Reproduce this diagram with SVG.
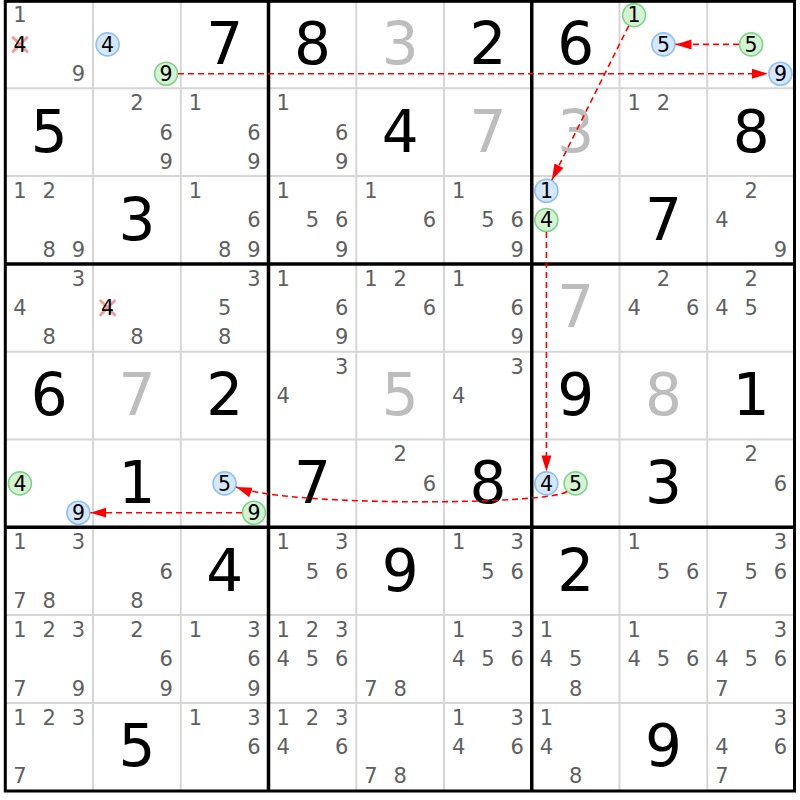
<svg xmlns="http://www.w3.org/2000/svg" width="800" height="800" viewBox="0 0 800 800">
<style>
.thin{stroke:#d6d6d6;stroke-width:2}
.thick{stroke:#000;stroke-width:3.5}
text{font-family:"DejaVu Sans","Liberation Sans",sans-serif;text-anchor:middle}
.c{font-size:21px;fill:#606060}
.h{font-size:20.5px;fill:#000}
.g{font-size:58px;fill:#000}
.u{font-size:58px;fill:#bdbdbd}
.hb{fill:#d4e7fd;stroke:#8dbff3;stroke-width:1.6}
.hg{fill:#d3f3d3;stroke:#7fd38a;stroke-width:1.6}
.x{stroke:#f49c9c;stroke-width:3;stroke-linecap:round}
.link{fill:none;stroke:#f00;stroke-width:1.6;stroke-dasharray:6,4}
</style>
<defs>
<marker id="ah" markerUnits="userSpaceOnUse" markerWidth="17" markerHeight="12" refX="16" refY="5" orient="auto" viewBox="0 0 17 10">
<path d="M0,0 L16,5 L0,10 z" fill="#f00"/>
</marker>
</defs>
<rect x="0" y="0" width="800" height="800" fill="#fff"/>
<g id="grid-thin">
<line class="thin" x1="93" y1="1" x2="93" y2="791"/>
<line class="thin" x1="180.75" y1="1" x2="180.75" y2="791"/>
<line class="thin" x1="356.25" y1="1" x2="356.25" y2="791"/>
<line class="thin" x1="444" y1="1" x2="444" y2="791"/>
<line class="thin" x1="619.5" y1="1" x2="619.5" y2="791"/>
<line class="thin" x1="707.25" y1="1" x2="707.25" y2="791"/>
<line class="thin" x1="5" y1="88.3" x2="795" y2="88.3"/>
<line class="thin" x1="5" y1="176.1" x2="795" y2="176.1"/>
<line class="thin" x1="5" y1="351.7" x2="795" y2="351.7"/>
<line class="thin" x1="5" y1="439.5" x2="795" y2="439.5"/>
<line class="thin" x1="5" y1="615.1" x2="795" y2="615.1"/>
<line class="thin" x1="5" y1="702.9" x2="795" y2="702.9"/>
</g>
<g id="r0c0"><text class="c" x="19.9" y="22.4">1</text><line class="x" x1="13" y1="37.5" x2="27" y2="51.5"/><line class="x" x1="27" y1="37.5" x2="13" y2="51.5"/><text class="h" x="19.9" y="51.7">4</text><text class="c" x="78.4" y="81">9</text></g>
<g id="r0c1"><circle class="hb" cx="107.6" cy="44.4" r="11.5"/><text class="h" x="107.6" y="51.7">4</text><circle class="hg" cx="166.1" cy="73.7" r="11.5"/><text class="h" x="166.1" y="81">9</text></g>
<g id="r0c2"><text class="g" x="224.6" y="64">7</text></g>
<g id="r0c3"><text class="g" x="312.4" y="64">8</text></g>
<g id="r0c4"><text class="u" x="400.1" y="64">3</text></g>
<g id="r0c5"><text class="g" x="487.9" y="64">2</text></g>
<g id="r0c6"><text class="g" x="575.6" y="64">6</text></g>
<g id="r0c7"><circle class="hg" cx="634.1" cy="15.1" r="11.5"/><text class="h" x="634.1" y="22.4">1</text><circle class="hb" cx="663.4" cy="44.4" r="11.5"/><text class="h" x="663.4" y="51.7">5</text></g>
<g id="r0c8"><circle class="hg" cx="751.1" cy="44.4" r="11.5"/><text class="h" x="751.1" y="51.7">5</text><circle class="hb" cx="780.4" cy="73.7" r="11.5"/><text class="h" x="780.4" y="81">9</text></g>

<g id="r1c0"><text class="g" x="49.1" y="151.8">5</text></g>
<g id="r1c1"><text class="c" x="136.9" y="110.2">2</text><text class="c" x="166.1" y="139.5">6</text><text class="c" x="166.1" y="168.8">9</text></g>
<g id="r1c2"><text class="c" x="195.4" y="110.2">1</text><text class="c" x="253.9" y="139.5">6</text><text class="c" x="253.9" y="168.8">9</text></g>
<g id="r1c3"><text class="c" x="283.1" y="110.2">1</text><text class="c" x="341.6" y="139.5">6</text><text class="c" x="341.6" y="168.8">9</text></g>
<g id="r1c4"><text class="g" x="400.1" y="151.8">4</text></g>
<g id="r1c5"><text class="u" x="487.9" y="151.8">7</text></g>
<g id="r1c6"><text class="u" x="575.6" y="151.8">3</text></g>
<g id="r1c7"><text class="c" x="634.1" y="110.2">1</text><text class="c" x="663.4" y="110.2">2</text></g>
<g id="r1c8"><text class="g" x="751.1" y="151.8">8</text></g>

<g id="r2c0"><text class="c" x="19.9" y="198">1</text><text class="c" x="49.1" y="198">2</text><text class="c" x="49.1" y="256.6">8</text><text class="c" x="78.4" y="256.6">9</text></g>
<g id="r2c1"><text class="g" x="136.9" y="239.6">3</text></g>
<g id="r2c2"><text class="c" x="195.4" y="198">1</text><text class="c" x="253.9" y="227.3">6</text><text class="c" x="224.6" y="256.6">8</text><text class="c" x="253.9" y="256.6">9</text></g>
<g id="r2c3"><text class="c" x="283.1" y="198">1</text><text class="c" x="312.4" y="227.3">5</text><text class="c" x="341.6" y="227.3">6</text><text class="c" x="341.6" y="256.6">9</text></g>
<g id="r2c4"><text class="c" x="370.9" y="198">1</text><text class="c" x="429.4" y="227.3">6</text></g>
<g id="r2c5"><text class="c" x="458.6" y="198">1</text><text class="c" x="487.9" y="227.3">5</text><text class="c" x="517.1" y="227.3">6</text><text class="c" x="517.1" y="256.6">9</text></g>
<g id="r2c6"><circle class="hb" cx="546.4" cy="190.7" r="11.5"/><text class="h" x="546.4" y="198">1</text><circle class="hg" cx="546.4" cy="220" r="11.5"/><text class="h" x="546.4" y="227.3">4</text></g>
<g id="r2c7"><text class="g" x="663.4" y="239.6">7</text></g>
<g id="r2c8"><text class="c" x="751.1" y="198">2</text><text class="c" x="721.9" y="227.3">4</text><text class="c" x="780.4" y="256.6">9</text></g>

<g id="r3c0"><text class="c" x="78.4" y="285.8">3</text><text class="c" x="19.9" y="315.1">4</text><text class="c" x="49.1" y="344.4">8</text></g>
<g id="r3c1"><line class="x" x1="100.6" y1="300.8" x2="114.6" y2="314.8"/><line class="x" x1="114.6" y1="300.8" x2="100.6" y2="314.8"/><text class="h" x="107.6" y="315.1">4</text><text class="c" x="136.9" y="344.4">8</text></g>
<g id="r3c2"><text class="c" x="253.9" y="285.8">3</text><text class="c" x="224.6" y="315.1">5</text><text class="c" x="224.6" y="344.4">8</text></g>
<g id="r3c3"><text class="c" x="283.1" y="285.8">1</text><text class="c" x="341.6" y="315.1">6</text><text class="c" x="341.6" y="344.4">9</text></g>
<g id="r3c4"><text class="c" x="370.9" y="285.8">1</text><text class="c" x="400.1" y="285.8">2</text><text class="c" x="429.4" y="315.1">6</text></g>
<g id="r3c5"><text class="c" x="458.6" y="285.8">1</text><text class="c" x="517.1" y="315.1">6</text><text class="c" x="517.1" y="344.4">9</text></g>
<g id="r3c6"><text class="u" x="575.6" y="327.4">7</text></g>
<g id="r3c7"><text class="c" x="663.4" y="285.8">2</text><text class="c" x="634.1" y="315.1">4</text><text class="c" x="692.6" y="315.1">6</text></g>
<g id="r3c8"><text class="c" x="751.1" y="285.8">2</text><text class="c" x="721.9" y="315.1">4</text><text class="c" x="751.1" y="315.1">5</text></g>

<g id="r4c0"><text class="g" x="49.1" y="415.2">6</text></g>
<g id="r4c1"><text class="u" x="136.9" y="415.2">7</text></g>
<g id="r4c2"><text class="g" x="224.6" y="415.2">2</text></g>
<g id="r4c3"><text class="c" x="341.6" y="373.6">3</text><text class="c" x="283.1" y="402.9">4</text></g>
<g id="r4c4"><text class="u" x="400.1" y="415.2">5</text></g>
<g id="r4c5"><text class="c" x="517.1" y="373.6">3</text><text class="c" x="458.6" y="402.9">4</text></g>
<g id="r4c6"><text class="g" x="575.6" y="415.2">9</text></g>
<g id="r4c7"><text class="u" x="663.4" y="415.2">8</text></g>
<g id="r4c8"><text class="g" x="751.1" y="415.2">1</text></g>

<g id="r5c0"><circle class="hg" cx="19.9" cy="483.4" r="11.5"/><text class="h" x="19.9" y="490.7">4</text><circle class="hb" cx="78.4" cy="512.7" r="11.5"/><text class="h" x="78.4" y="520">9</text></g>
<g id="r5c1"><text class="g" x="136.9" y="503">1</text></g>
<g id="r5c2"><circle class="hb" cx="224.6" cy="483.4" r="11.5"/><text class="h" x="224.6" y="490.7">5</text><circle class="hg" cx="253.9" cy="512.7" r="11.5"/><text class="h" x="253.9" y="520">9</text></g>
<g id="r5c3"><text class="g" x="312.4" y="503">7</text></g>
<g id="r5c4"><text class="c" x="400.1" y="461.4">2</text><text class="c" x="429.4" y="490.7">6</text></g>
<g id="r5c5"><text class="g" x="487.9" y="503">8</text></g>
<g id="r5c6"><circle class="hb" cx="546.4" cy="483.4" r="11.5"/><text class="h" x="546.4" y="490.7">4</text><circle class="hg" cx="575.6" cy="483.4" r="11.5"/><text class="h" x="575.6" y="490.7">5</text></g>
<g id="r5c7"><text class="g" x="663.4" y="503">3</text></g>
<g id="r5c8"><text class="c" x="751.1" y="461.4">2</text><text class="c" x="780.4" y="490.7">6</text></g>

<g id="r6c0"><text class="c" x="19.9" y="549.2">1</text><text class="c" x="78.4" y="549.2">3</text><text class="c" x="19.9" y="607.8">7</text><text class="c" x="49.1" y="607.8">8</text></g>
<g id="r6c1"><text class="c" x="166.1" y="578.5">6</text><text class="c" x="136.9" y="607.8">8</text></g>
<g id="r6c2"><text class="g" x="224.6" y="590.8">4</text></g>
<g id="r6c3"><text class="c" x="283.1" y="549.2">1</text><text class="c" x="341.6" y="549.2">3</text><text class="c" x="312.4" y="578.5">5</text><text class="c" x="341.6" y="578.5">6</text></g>
<g id="r6c4"><text class="g" x="400.1" y="590.8">9</text></g>
<g id="r6c5"><text class="c" x="458.6" y="549.2">1</text><text class="c" x="517.1" y="549.2">3</text><text class="c" x="487.9" y="578.5">5</text><text class="c" x="517.1" y="578.5">6</text></g>
<g id="r6c6"><text class="g" x="575.6" y="590.8">2</text></g>
<g id="r6c7"><text class="c" x="634.1" y="549.2">1</text><text class="c" x="663.4" y="578.5">5</text><text class="c" x="692.6" y="578.5">6</text></g>
<g id="r6c8"><text class="c" x="780.4" y="549.2">3</text><text class="c" x="751.1" y="578.5">5</text><text class="c" x="780.4" y="578.5">6</text><text class="c" x="721.9" y="607.8">7</text></g>

<g id="r7c0"><text class="c" x="19.9" y="637">1</text><text class="c" x="49.1" y="637">2</text><text class="c" x="78.4" y="637">3</text><text class="c" x="19.9" y="695.6">7</text><text class="c" x="78.4" y="695.6">9</text></g>
<g id="r7c1"><text class="c" x="136.9" y="637">2</text><text class="c" x="166.1" y="666.3">6</text><text class="c" x="166.1" y="695.6">9</text></g>
<g id="r7c2"><text class="c" x="195.4" y="637">1</text><text class="c" x="253.9" y="637">3</text><text class="c" x="253.9" y="666.3">6</text><text class="c" x="253.9" y="695.6">9</text></g>
<g id="r7c3"><text class="c" x="283.1" y="637">1</text><text class="c" x="312.4" y="637">2</text><text class="c" x="341.6" y="637">3</text><text class="c" x="283.1" y="666.3">4</text><text class="c" x="312.4" y="666.3">5</text><text class="c" x="341.6" y="666.3">6</text></g>
<g id="r7c4"><text class="c" x="370.9" y="695.6">7</text><text class="c" x="400.1" y="695.6">8</text></g>
<g id="r7c5"><text class="c" x="458.6" y="637">1</text><text class="c" x="517.1" y="637">3</text><text class="c" x="458.6" y="666.3">4</text><text class="c" x="487.9" y="666.3">5</text><text class="c" x="517.1" y="666.3">6</text></g>
<g id="r7c6"><text class="c" x="546.4" y="637">1</text><text class="c" x="546.4" y="666.3">4</text><text class="c" x="575.6" y="666.3">5</text><text class="c" x="575.6" y="695.6">8</text></g>
<g id="r7c7"><text class="c" x="634.1" y="637">1</text><text class="c" x="634.1" y="666.3">4</text><text class="c" x="663.4" y="666.3">5</text><text class="c" x="692.6" y="666.3">6</text></g>
<g id="r7c8"><text class="c" x="780.4" y="637">3</text><text class="c" x="721.9" y="666.3">4</text><text class="c" x="751.1" y="666.3">5</text><text class="c" x="780.4" y="666.3">6</text><text class="c" x="721.9" y="695.6">7</text></g>

<g id="r8c0"><text class="c" x="19.9" y="724.8">1</text><text class="c" x="49.1" y="724.8">2</text><text class="c" x="78.4" y="724.8">3</text><text class="c" x="19.9" y="783.4">7</text></g>
<g id="r8c1"><text class="g" x="136.9" y="766.4">5</text></g>
<g id="r8c2"><text class="c" x="195.4" y="724.8">1</text><text class="c" x="253.9" y="724.8">3</text><text class="c" x="253.9" y="754.1">6</text></g>
<g id="r8c3"><text class="c" x="283.1" y="724.8">1</text><text class="c" x="312.4" y="724.8">2</text><text class="c" x="341.6" y="724.8">3</text><text class="c" x="283.1" y="754.1">4</text><text class="c" x="341.6" y="754.1">6</text></g>
<g id="r8c4"><text class="c" x="370.9" y="783.4">7</text><text class="c" x="400.1" y="783.4">8</text></g>
<g id="r8c5"><text class="c" x="458.6" y="724.8">1</text><text class="c" x="517.1" y="724.8">3</text><text class="c" x="458.6" y="754.1">4</text><text class="c" x="517.1" y="754.1">6</text></g>
<g id="r8c6"><text class="c" x="546.4" y="724.8">1</text><text class="c" x="546.4" y="754.1">4</text><text class="c" x="575.6" y="783.4">8</text></g>
<g id="r8c7"><text class="g" x="663.4" y="766.4">9</text></g>
<g id="r8c8"><text class="c" x="780.4" y="724.8">3</text><text class="c" x="721.9" y="754.1">4</text><text class="c" x="780.4" y="754.1">6</text><text class="c" x="721.9" y="783.4">7</text></g>

<g id="grid-thick">
<line class="thick" x1="268.5" y1="1" x2="268.5" y2="791"/>
<line class="thick" x1="531.75" y1="1" x2="531.75" y2="791"/>
<line class="thick" x1="5" y1="263.9" x2="795" y2="263.9"/>
<line class="thick" x1="5" y1="527.3" x2="795" y2="527.3"/>
<rect x="5.3" y="1.3" width="789.2" height="789.7" fill="none" stroke="#000" stroke-width="3"/>
</g>
<g id="connectors">
<path class="link" d="M178,73.7 L768,73.7" marker-end="url(#ah)"/>
<path class="link" d="M739,44.4 L675.5,44.4" marker-end="url(#ah)"/>
<path class="link" d="M628.7,25.8 L551.8,180" marker-end="url(#ah)"/>
<path class="link" d="M546.4,232 L546.4,471.4" marker-end="url(#ah)"/>
<path class="link" d="M567,491.5 C548,505 290,507 236,487" marker-end="url(#ah)"/>
<path class="link" d="M242,512.7 L90.4,512.7" marker-end="url(#ah)"/>
</g>
</svg>
